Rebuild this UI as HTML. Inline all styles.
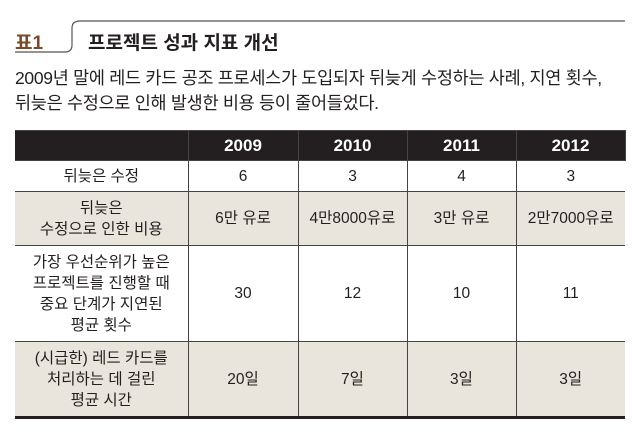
<!DOCTYPE html>
<html><head><meta charset="utf-8"><style>
body{margin:0;width:640px;height:435px;background:#fff;font-family:"Liberation Sans","Noto Sans CJK KR",sans-serif;color:#231f20;position:relative;overflow:hidden}
.abs{position:absolute}
table{position:absolute;left:15px;top:130px;width:610px;border-collapse:collapse;table-layout:fixed;font-size:15.5px}
td,th{text-align:center;border:1px solid #444;padding:0;line-height:21px}
th{background:#231f20;color:#fff;font-size:17px;border-left:1.5px solid #fff;height:29px}
th:first-child{border-left:none}
tr.tan td{background:#e9e5dc}
td:first-child{border-left:none}td:last-child{border-right:none}
tr:last-child td{border-bottom:3px solid #231f20}
</style></head><body>
<svg class="abs" style="left:0;top:0" width="640" height="60">
<path d="M15 52 H65 Q72 52 72 45 V28 Q72 21 80 21 H625" fill="none" stroke="#555" stroke-width="1.2"/>
</svg>
<div class="abs" style="left:15px;top:28px;font-size:19px;font-weight:bold;color:#7a4a2a">표1</div>
<div class="abs" style="left:88px;top:28px;font-size:19px;font-weight:bold">프로젝트 성과 지표 개선</div>
<div class="abs" style="left:15px;top:66px;font-size:17.5px;line-height:25px;letter-spacing:-0.3px">2009년 말에 레드 카드 공조 프로세스가 도입되자 뒤늦게 수정하는 사례, 지연 횟수,<br>뒤늦은 수정으로 인해 발생한 비용 등이 줄어들었다.</div>
<table>
<colgroup><col style="width:173px"><col style="width:110px"><col style="width:109px"><col style="width:109px"><col style="width:109px"></colgroup>
<tr><th></th><th>2009</th><th>2010</th><th>2011</th><th>2012</th></tr>
<tr style="height:31px"><td>뒤늦은 수정</td><td>6</td><td>3</td><td>4</td><td>3</td></tr>
<tr class="tan" style="height:54px"><td>뒤늦은<br>수정으로 인한 비용</td><td>6만 유로</td><td>4만8000유로</td><td>3만 유로</td><td>2만7000유로</td></tr>
<tr style="height:96px"><td>가장 우선순위가 높은<br>프로젝트를 진행할 때<br>중요 단계가 지연된<br>평균 횟수</td><td>30</td><td>12</td><td>10</td><td>11</td></tr>
<tr class="tan" style="height:76px"><td>(시급한) 레드 카드를<br>처리하는 데 걸린<br>평균 시간</td><td>20일</td><td>7일</td><td>3일</td><td>3일</td></tr>
</table>
</body></html>
